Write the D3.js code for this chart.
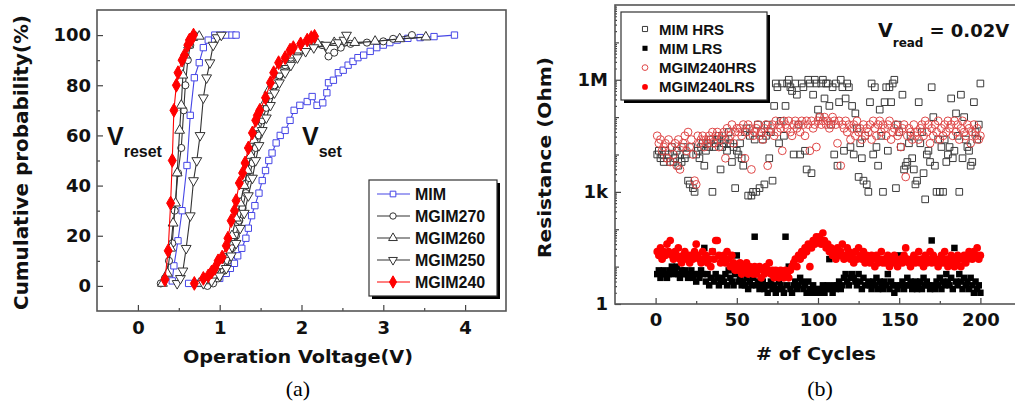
<!DOCTYPE html>
<html>
<head>
<meta charset="utf-8">
<script src="https://cdn.jsdelivr.net/npm/d3@7"></script>
<style>
  body { margin: 0; background: #fff; }
  svg { display: block; }
</style>
</head>
<body>
<div id="chart"></div>
<script>
// ---------- panel (a): [voltage, cumulative %] ----------
var mimReset = [[0.42,2],[0.44,8],[0.49,18],[0.54,30],[0.6,48],[0.64,68],[0.69,83],[0.75,89],[0.8,95],[0.86,98],[0.94,100],[1.02,100],[1.08,100],[1.15,100],[1.2,100]];
var mgim270Reset = [[0.28,1],[0.33,3],[0.38,10],[0.42,17],[0.45,30],[0.49,45],[0.53,55],[0.56,70],[0.58,80],[0.61,90],[0.64,96],[0.69,100]];
var mgim260Reset = [[0.3,1],[0.36,5],[0.4,15],[0.43,25],[0.46,33],[0.48,45],[0.51,62],[0.53,72],[0.55,84],[0.58,92],[0.62,96],[0.67,99],[0.75,99.5]];
var mgim250Reset = [[0.48,1],[0.52,3],[0.55,6],[0.59,15],[0.64,28],[0.68,42],[0.72,50],[0.76,60],[0.8,75],[0.84,83],[0.88,89],[0.92,96],[0.97,99],[1.02,100]];
var mgim240Reset = [[0.33,2.5],[0.37,14],[0.4,33],[0.42,50],[0.44,70],[0.47,80],[0.49,85],[0.54,90],[0.57,92],[0.61,96],[0.63,98],[0.66,98.5],[0.68,100]];

var mimSet = [[0.62,1],[0.75,1],[0.9,1.5],[1.0,3],[1.08,5],[1.13,7],[1.18,9],[1.22,12],[1.27,15],[1.32,19],[1.35,23],[1.39,28],[1.43,32],[1.48,37],[1.52,42],[1.56,46],[1.6,50],[1.64,53],[1.69,57],[1.74,60],[1.8,62],[1.86,66],[1.91,70],[1.98,72],[2.07,73.5],[2.13,75.5],[2.19,72],[2.26,73],[2.31,77],[2.33,81],[2.39,82],[2.45,85],[2.51,86],[2.57,88],[2.63,89.5],[2.69,91],[2.76,92],[2.84,93.5],[2.92,95],[3.0,96],[3.08,97],[3.17,98],[3.3,98.7],[3.45,99],[3.62,99.4],[3.87,100]];
var mgim270Set = [[0.85,0],[0.92,1],[0.98,3],[1.05,6],[1.1,10],[1.15,15],[1.2,20],[1.24,26],[1.28,31],[1.32,37],[1.36,43],[1.4,49],[1.44,55],[1.48,60],[1.52,66],[1.57,71],[1.62,76],[1.67,80],[1.73,84],[1.8,88],[1.87,91],[1.95,93],[2.05,94.5],[2.15,95.5],[2.25,96],[2.33,91.5],[2.4,93],[2.48,95],[2.6,96.5],[2.8,97],[3.0,97.5],[3.12,98.5],[3.35,100]];
var mgim260Set = [[0.75,1],[0.85,2],[0.95,4],[1.03,8],[1.1,14],[1.15,20],[1.2,27],[1.25,33],[1.3,40],[1.34,46],[1.38,52],[1.42,58],[1.46,63],[1.5,68],[1.55,73],[1.6,78],[1.66,82],[1.72,86],[1.8,89],[1.88,92],[1.96,94],[2.06,95.5],[2.2,96.5],[2.4,97],[2.65,97],[2.9,97.5],[3.2,98.5],[3.52,99.2]];
var mgim250Set = [[0.8,1],[0.9,2],[1.0,4],[1.08,7],[1.14,12],[1.2,17],[1.25,23],[1.3,29],[1.35,36],[1.4,43],[1.44,50],[1.48,56],[1.52,62],[1.57,67],[1.62,72],[1.67,77],[1.73,81],[1.8,85],[1.87,88],[1.95,91],[2.05,93.5],[2.15,95],[2.3,96],[2.45,97],[2.52,98],[2.55,100]];
var mgim240Set = [[0.69,1],[0.8,3],[0.86,4],[0.9,5.5],[0.94,7],[0.98,10],[1.03,11.5],[1.08,16],[1.1,19],[1.14,26],[1.18,30],[1.2,34],[1.24,41],[1.28,45],[1.31,49],[1.35,55],[1.4,61],[1.44,66],[1.46,68],[1.49,70],[1.56,75],[1.62,81],[1.66,85],[1.72,89],[1.8,91],[1.86,94],[1.9,95],[1.99,96.5],[2.07,98],[2.12,99],[2.16,99.5]];

var seriesNamesA = ["MIM", "MGIM270", "MGIM260", "MGIM250", "MGIM240"];
var voltTicks = [0, 1, 2, 3, 4];
var probTicks = [0, 20, 40, 60, 80, 100];

// ---------- panel (b): log10(resistance in Ohm) per cycle ----------
var mimHrs = [4.0,4.1,3.9,4.0,3.8,4.1,3.9,4.0,3.8,4.2, 3.8,3.9,4.1,3.7,4.0,3.8,4.2,3.9,4.0,3.3,
  3.2,4.2,3.1,3.0,4.0,4.1,3.9,4.2,4.3,3.7, 4.1,4.3,4.2,4.4,3.0,4.2,4.3,4.4,4.5,3.6,
  4.2,4.3,4.4,4.1,4.6,4.3,3.8,4.2,3.1,4.1, 4.0,4.3,3.9,3.7,4.6,4.7,2.9,4.5,2.9,3.0,
  4.4,3.0,4.8,3.1,4.6,4.4,3.2,4.5,4.8,3.9, 4.6,3.3,5.3,5.9,5.8,4.3,4.9,5.9,4.5,5.3,
  5.9,6.0,5.8,5.7,4.0,5.9,5.6,4.8,4.0,5.9, 5.8,4.1,3.6,6.0,5.9,3.5,5.6,6.0,5.9,5.2,
  5.0,5.9,6.0,5.5,5.9,5.9,5.3,4.8,5.8,4.0, 5.9,3.7,5.4,6.0,5.8,4.1,5.5,5.9,5.8,4.2,
  5.3,4.0,5.1,4.7,3.4,4.3,3.9,3.3,4.5,3.2, 3.0,5.4,5.9,4.0,5.8,4.2,3.7,5.2,4.5,3.0,
  5.4,5.8,4.1,5.8,5.4,5.9,6.0,3.1,4.8,4.6, 4.2,5.6,3.6,3.7,3.8,4.3,4.5,3.9,3.6,3.2,
  3.3,5.4,4.3,4.6,3.5,2.8,4.0,4.1,3.8,5.8, 5.0,3.7,3.0,4.4,3.0,4.2,3.0,4.4,3.8,4.0,
  4.2,5.5,3.9,4.1,5.1,4.5,3.0,5.6,3.9,5.0, 4.4,4.2,4.1,3.7,3.8,5.4,4.6,4.4,4.8,5.9];
var mimLrs = [0.8,0.9,0.7,0.8,0.9,0.8,0.7,0.8,0.9,1.0, 0.8,0.9,1.0,0.8,0.7,0.9,0.8,0.9,0.8,0.7,
  0.8,0.9,0.7,0.8,0.6,0.8,0.7,0.9,0.8,1.5, 0.6,0.8,0.5,0.7,1.4,0.6,0.8,0.7,0.5,0.6,
  0.7,0.6,0.8,0.5,0.9,0.7,0.6,0.5,0.8,1.3, 0.6,0.7,0.5,0.6,0.5,0.7,0.4,0.6,0.5,0.7,
  1.8,0.5,0.6,0.4,0.5,0.6,0.4,0.5,0.3,0.5, 0.6,0.4,0.5,0.3,0.4,0.6,0.5,0.4,0.3,1.8,
  0.5,1.0,0.4,0.3,0.5,0.6,0.4,0.5,0.7,0.6, 0.4,0.5,0.3,0.6,0.4,0.3,0.5,0.4,0.3,0.4,
  0.3,0.4,0.5,0.3,0.4,0.5,1.2,0.4,0.3,0.5, 0.4,0.5,0.6,0.4,0.5,0.7,0.8,0.6,0.5,0.7,
  0.8,0.7,0.6,0.5,0.8,0.6,0.4,0.7,0.5,1.2, 0.6,0.5,0.4,0.6,0.5,0.7,0.4,0.6,0.5,0.4,
  0.6,0.5,0.8,0.4,0.6,0.5,0.3,0.5,0.4,1.3, 0.5,0.6,0.4,0.5,0.7,0.5,0.6,0.4,0.5,0.6,
  0.4,0.5,0.6,0.4,0.7,0.5,0.6,0.5,0.4,1.7, 0.5,0.4,0.6,0.5,0.7,0.4,0.6,0.5,0.8,0.6,
  0.5,0.7,0.4,1.5,0.6,0.5,0.8,0.6,0.4,0.7, 0.5,0.6,0.4,0.7,0.5,0.3,0.6,0.4,0.5,0.3];
var mgimHrs = [4.5,4.3,4.4,4.1,4.2,4.3,3.9,4.4,3.8,4.2, 4.0,4.3,3.7,4.4,3.6,4.2,4.3,4.5,4.1,4.6,
  4.2,4.4,4.0,3.3,3.2,4.5,4.3,4.4,4.5,4.2, 4.4,4.3,4.5,4.4,4.6,4.3,4.5,4.6,4.2,4.4,
  4.5,4.6,3.9,4.7,4.4,4.5,4.8,4.3,4.6,4.7, 4.6,4.7,4.5,4.8,3.9,4.6,4.8,4.7,3.6,4.5,
  4.6,4.7,4.8,4.5,4.6,4.4,4.7,4.8,3.7,4.6, 4.7,4.8,4.5,4.9,4.6,4.8,4.7,4.1,4.9,4.8,
  4.7,4.9,4.6,4.5,4.8,4.9,4.7,4.8,4.6,4.9, 4.8,4.5,4.9,4.8,4.1,4.9,4.7,4.8,4.2,4.9,
  5.0,4.8,4.9,5.0,4.8,4.9,4.7,4.8,5.0,4.9, 4.8,4.3,4.9,3.7,4.8,4.7,4.9,4.6,4.8,4.4,
  4.7,4.8,4.5,4.9,4.6,4.7,4.4,4.8,4.5,4.7, 4.6,4.8,4.4,4.9,4.7,4.5,4.8,4.9,4.6,4.8,
  4.7,4.5,4.8,4.9,4.4,4.6,4.7,4.8,4.5,4.6, 4.2,4.7,4.8,3.4,4.5,4.7,4.6,4.4,4.8,4.5,
  4.6,4.4,4.7,4.8,4.5,4.9,4.6,4.8,4.3,4.7, 4.5,4.8,4.6,4.9,4.4,4.7,4.5,4.8,4.6,4.9,
  4.7,4.8,4.5,4.9,4.6,4.8,4.4,4.7,4.9,4.6, 4.5,4.8,4.7,4.3,4.6,4.8,4.5,4.7,4.4,4.5];
var mgimLrs = [1.4,1.3,1.5,1.2,1.4,1.3,1.6,1.4,1.7,1.3, 1.2,1.4,1.3,1.5,1.2,1.1,1.3,1.4,1.2,1.3,
  1.1,1.3,1.2,1.4,1.6,1.3,1.2,1.1,1.4,1.2, 1.3,1.1,1.2,1.0,1.4,1.2,1.7,1.7,1.3,1.1,
  1.2,1.3,1.1,1.4,1.2,1.0,1.3,1.1,0.9,1.0, 0.9,1.1,0.8,1.0,0.9,1.1,0.8,1.0,0.9,0.8,
  1.0,0.8,0.9,1.0,0.7,0.9,0.8,1.0,0.9,1.1, 0.8,0.9,0.7,0.9,0.8,0.7,0.9,0.8,0.7,0.9,
  0.8,0.7,0.9,1.0,1.1,1.2,1.0,1.3,1.2,1.4, 1.3,1.5,1.4,1.6,1.0,1.5,1.7,1.6,1.8,1.7,
  1.8,1.6,1.9,1.7,1.5,1.6,1.4,1.5,1.3,1.4, 1.2,1.5,1.3,1.4,1.6,1.2,1.3,1.5,1.4,1.2,
  1.3,1.1,1.4,1.2,1.5,1.3,1.2,1.4,1.1,1.3, 1.2,1.1,1.3,1.2,1.0,1.3,1.1,1.2,1.4,1.1,
  1.2,1.1,1.3,1.0,1.2,1.1,1.3,1.2,1.0,1.1, 1.2,1.1,1.3,1.5,1.2,1.1,1.0,1.2,1.3,1.1,
  1.2,1.4,1.1,1.2,1.0,1.3,1.1,1.2,1.4,1.1, 1.3,1.2,1.1,1.0,1.2,1.3,1.1,1.4,1.2,1.0,
  1.1,1.3,1.2,1.0,1.1,1.3,1.2,1.0,1.2,1.3, 1.1,1.2,1.4,1.3,1.2,1.4,1.3,1.5,1.2,1.3];

var seriesNamesB = ["MIM HRS", "MIM LRS", "MGIM240HRS", "MGIM240LRS"];
var cycleTicks = [0, 50, 100, 150, 200];
var resTicks = [1, 1e3, 1e6];
var resTickLabels = ["1", "1k", "1M"];

var W = 1015, H = 402;
var svg = d3.select("#chart").append("svg")
  .attr("width", W).attr("height", H);

var tickFont = "DejaVu Sans, sans-serif";
var legFont = "Liberation Sans, Arial, sans-serif";

function styleAxis(g) {
  g.select(".domain").remove();
  g.selectAll(".tick line").attr("stroke", "#444").attr("stroke-width", 1.2);
  g.selectAll(".tick text")
    .attr("fill", "#111")
    .style("font-family", tickFont)
    .style("font-size", "18px")
    .style("font-weight", "bold");
}

// ================= panel (a) =================
function plot_panel_a() {
  var x = d3.scaleLinear().domain([-0.5, 4.5]).range([97, 506]);
  var y = d3.scaleLinear().domain([-10, 110]).range([311, 10]);

  var series = [
    {name: seriesNamesA[0], reset: mimReset, set: mimSet, color: "#4646e6", sym: d3.symbolSquare, size: 40, fill: "#fff", rot: 0},
    {name: seriesNamesA[1], reset: mgim270Reset, set: mgim270Set, color: "#333", sym: d3.symbolCircle, size: 40, fill: "#fff", rot: 0},
    {name: seriesNamesA[2], reset: mgim260Reset, set: mgim260Set, color: "#333", sym: d3.symbolTriangle, size: 42, fill: "#fff", rot: 0},
    {name: seriesNamesA[3], reset: mgim250Reset, set: mgim250Set, color: "#333", sym: d3.symbolTriangle, size: 42, fill: "#fff", rot: 180},
    {name: seriesNamesA[4], reset: mgim240Reset, set: mgim240Set, color: "#f00", sym: d3.symbolDiamond, size: 55, fill: "#f00", rot: 0}
  ];

  // minor ticks
  svg.append("g").attr("transform", "translate(0," + y(-10) + ")")
    .call(d3.axisBottom(x).tickValues([0.5, 1.5, 2.5, 3.5]).tickSize(-3).tickFormat(""))
    .call(styleAxis);
  svg.append("g").attr("transform", "translate(" + x(-0.5) + ",0)")
    .call(d3.axisLeft(y).tickValues([10, 30, 50, 70, 90]).tickSize(-3).tickFormat(""))
    .call(styleAxis);

  // major axes
  svg.append("g").attr("transform", "translate(0," + y(-10) + ")")
    .call(d3.axisBottom(x).tickValues(voltTicks).tickSize(-6).tickPadding(10).tickSizeOuter(0).tickFormat(d3.format("d")))
    .call(styleAxis);
  svg.append("g").attr("transform", "translate(" + x(-0.5) + ",0)")
    .call(d3.axisLeft(y).tickValues(probTicks).tickSize(-6).tickPadding(6).tickSizeOuter(0))
    .call(styleAxis);

  // frame
  svg.append("rect")
    .attr("x", x(-0.5)).attr("y", y(110))
    .attr("width", x(4.5) - x(-0.5)).attr("height", y(-10) - y(110))
    .attr("fill", "none").attr("stroke", "#555").attr("stroke-width", 1.6);

  var line = d3.line().x(function(d) { return x(d[0]); }).y(function(d) { return y(d[1]); });

  series.forEach(function(s) {
    [s.reset, s.set].forEach(function(branch) {
      svg.append("path").datum(branch)
        .attr("fill", "none").attr("stroke", s.color).attr("stroke-width", 1.1)
        .attr("d", line);
      svg.selectAll(null).data(branch).enter().append("path")
        .attr("transform", function(d) { return "translate(" + x(d[0]) + "," + y(d[1]) + ") rotate(" + s.rot + ")"; })
        .attr("d", d3.symbol().type(s.sym).size(s.size))
        .attr("fill", s.fill).attr("stroke", s.color).attr("stroke-width", 1);
    });
  });

  // legend
  svg.append("rect").attr("x", 372).attr("y", 183).attr("width", 128).attr("height", 116).attr("fill", "#000");
  svg.append("rect").attr("x", 369).attr("y", 180).attr("width", 128).attr("height", 116)
    .attr("fill", "#fff").attr("stroke", "#333").attr("stroke-width", 1.2);
  series.forEach(function(s, i) {
    var ly = 194 + i * 22;
    svg.append("line").attr("x1", 377).attr("x2", 410).attr("y1", ly).attr("y2", ly)
      .attr("stroke", s.color).attr("stroke-width", 1.2);
    svg.append("path")
      .attr("transform", "translate(393," + ly + ") rotate(" + s.rot + ")")
      .attr("d", d3.symbol().type(s.sym).size(s.size * 0.8))
      .attr("fill", s.fill).attr("stroke", s.color).attr("stroke-width", 1);
    svg.append("text").attr("x", 415).attr("y", ly + 6)
      .style("font-family", legFont).style("font-size", "16px").style("font-weight", "bold")
      .attr("fill", "#111").text(s.name);
  });

  // V_reset / V_set
  var vr = svg.append("text").attr("x", 107).attr("y", 145)
    .style("font-family", legFont).style("font-weight", "bold").attr("fill", "#111");
  vr.append("tspan").style("font-size", "25px").text("V");
  vr.append("tspan").attr("dy", 12).style("font-size", "16px").text("reset");
  var vs = svg.append("text").attr("x", 302).attr("y", 145)
    .style("font-family", legFont).style("font-weight", "bold").attr("fill", "#111");
  vs.append("tspan").style("font-size", "25px").text("V");
  vs.append("tspan").attr("dy", 12).style("font-size", "16px").text("set");

  // axis titles
  svg.append("text")
    .attr("transform", "translate(28,162.5) rotate(-90)")
    .attr("text-anchor", "middle")
    .attr("textLength", 295).attr("lengthAdjust", "spacingAndGlyphs")
    .style("font-family", tickFont).style("font-size", "19px").style("font-weight", "bold")
    .attr("fill", "#111").text("Cumulative probability(%)");
  svg.append("text").attr("x", 298).attr("y", 363)
    .attr("text-anchor", "middle")
    .attr("textLength", 230).attr("lengthAdjust", "spacingAndGlyphs")
    .style("font-family", tickFont).style("font-size", "18px").style("font-weight", "bold")
    .attr("fill", "#111").text("Operation Voltage(V)");
  svg.append("text").attr("x", 298).attr("y", 396)
    .attr("text-anchor", "middle")
    .style("font-family", "Liberation Serif, Times New Roman, serif").style("font-size", "22px")
    .attr("fill", "#000").text("(a)");
}

// ================= panel (b) =================
function plot_panel_b() {
  var x = d3.scaleLinear().domain([-25, 225]).range([615, 1021]);
  var y = d3.scaleLog().domain([1, 1e8]).range([304, 5]);
  var cycles = d3.range(1, 201);

  // minor log ticks
  var minor = [];
  for (var e = 0; e < 8; e++) for (var m = 2; m < 10; m++) minor.push(m * Math.pow(10, e));
  svg.append("g").attr("transform", "translate(" + x(-25) + ",0)")
    .call(d3.axisLeft(y).tickValues(minor).tickSize(-2).tickFormat(""))
    .call(styleAxis);
  svg.append("g").attr("transform", "translate(" + x(-25) + ",0)")
    .call(d3.axisLeft(y).tickValues([10, 100, 1e4, 1e5, 1e7]).tickSize(-4).tickFormat(""))
    .call(styleAxis);
  svg.append("g").attr("transform", "translate(" + x(-25) + ",0)")
    .call(d3.axisLeft(y).tickValues(resTicks).tickSize(-6).tickPadding(7).tickSizeOuter(0)
      .tickFormat(function(d, i) { return resTickLabels[i]; }))
    .call(styleAxis);

  svg.append("g").attr("transform", "translate(0," + y(1) + ")")
    .call(d3.axisBottom(x).tickValues([25, 75, 125, 175]).tickSize(-3).tickFormat(""))
    .call(styleAxis);
  svg.append("g").attr("transform", "translate(0," + y(1) + ")")
    .call(d3.axisBottom(x).tickValues(cycleTicks).tickSize(-6).tickPadding(9).tickSizeOuter(0))
    .call(styleAxis);

  svg.append("rect")
    .attr("x", x(-25)).attr("y", y(1e8))
    .attr("width", x(225) - x(-25)).attr("height", y(1) - y(1e8))
    .attr("fill", "none").attr("stroke", "#555").attr("stroke-width", 1.6);

  var series = [
    {name: seriesNamesB[0], vals: mimHrs, sym: d3.symbolSquare, size: 44, fill: "none", stroke: "#3a3a3a"},
    {name: seriesNamesB[2], vals: mgimHrs, sym: d3.symbolCircle, size: 48, fill: "none", stroke: "#e04848"},
    {name: seriesNamesB[1], vals: mimLrs, sym: d3.symbolSquare, size: 42, fill: "#000", stroke: "none"},
    {name: seriesNamesB[3], vals: mgimLrs, sym: d3.symbolCircle, size: 46, fill: "#f00", stroke: "none"}
  ];

  series.forEach(function(s) {
    svg.selectAll(null).data(s.vals).enter().append("path")
      .attr("transform", function(d, i) { return "translate(" + x(cycles[i]) + "," + y(Math.pow(10, d)) + ")"; })
      .attr("d", d3.symbol().type(s.sym).size(s.size))
      .attr("fill", s.fill).attr("stroke", s.stroke).attr("stroke-width", 1);
  });

  // legend
  svg.append("rect").attr("x", 624).attr("y", 15).attr("width", 146).attr("height", 88).attr("fill", "#000");
  svg.append("rect").attr("x", 621).attr("y", 12).attr("width", 146).attr("height", 88)
    .attr("fill", "#fff").attr("stroke", "#333").attr("stroke-width", 1.2);
  var legOrder = [series[0], series[2], series[1], series[3]];
  legOrder.forEach(function(s, i) {
    var ly = 29 + i * 19.3;
    svg.append("path").attr("transform", "translate(645," + ly + ")")
      .attr("d", d3.symbol().type(s.sym).size(26))
      .attr("fill", s.fill).attr("stroke", s.stroke).attr("stroke-width", 1);
    svg.append("text").attr("x", 659).attr("y", ly + 5.5)
      .style("font-family", legFont).style("font-size", "15px").style("font-weight", "bold")
      .attr("fill", "#111").text(s.name);
  });

  // V_read annotation
  var vt = svg.append("text").attr("x", 878).attr("y", 37)
    .style("font-family", tickFont).style("font-weight", "bold").attr("fill", "#111");
  vt.append("tspan").style("font-size", "19px").text("V");
  vt.append("tspan").attr("dy", 10).style("font-size", "12px").text("read");
  vt.append("tspan").attr("dy", -10).attr("dx", 6).style("font-size", "18px").text("= 0.02V");

  svg.append("text")
    .attr("transform", "translate(551,157.5) rotate(-90)")
    .attr("text-anchor", "middle")
    .attr("textLength", 201).attr("lengthAdjust", "spacingAndGlyphs")
    .style("font-family", tickFont).style("font-size", "18px").style("font-weight", "bold")
    .attr("fill", "#111").text("Resistance (Ohm)");
  svg.append("text").attr("x", 816).attr("y", 360)
    .attr("text-anchor", "middle")
    .attr("textLength", 120).attr("lengthAdjust", "spacingAndGlyphs")
    .style("font-family", tickFont).style("font-size", "18px").style("font-weight", "bold")
    .attr("fill", "#111").text("# of Cycles");
  svg.append("text").attr("x", 820).attr("y", 396)
    .attr("text-anchor", "middle")
    .style("font-family", "Liberation Serif, Times New Roman, serif").style("font-size", "22px")
    .attr("fill", "#000").text("(b)");
}

plot_panel_a();
plot_panel_b();
</script>
</body>
</html>
